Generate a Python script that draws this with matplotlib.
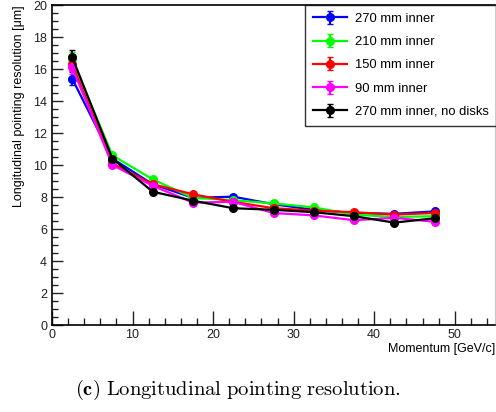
import matplotlib
matplotlib.use('Agg')
import matplotlib.pyplot as plt
from matplotlib.ticker import MultipleLocator

plt.rcParams['font.family'] = ['Liberation Sans', 'DejaVu Sans']

momentum = [2.5, 7.5, 12.5, 17.5, 22.5, 27.5, 32.5, 37.5, 42.5, 47.5]

res_270 = [15.4, 10.4, 8.8, 7.95, 8.02, 7.55, 7.2, 7.0, 6.95, 7.1]
res_210 = [16.6, 10.6, 9.1, 7.95, 7.8, 7.6, 7.35, 6.9, 6.75, 6.8]
res_150 = [16.3, 10.1, 8.8, 8.17, 7.7, 7.3, 7.15, 7.05, 6.9, 7.0]
res_90 = [16.1, 10.0, 8.7, 7.65, 7.7, 7.0, 6.85, 6.55, 6.7, 6.45]
res_nodisk = [16.75, 10.4, 8.33, 7.77, 7.3, 7.2, 7.05, 6.8, 6.4, 6.67]

err_270 = [0.4, 0.15, 0.1, 0.08, 0.08, 0.07, 0.07, 0.06, 0.06, 0.06]
err_210 = [0.45, 0.15, 0.1, 0.08, 0.08, 0.07, 0.07, 0.06, 0.06, 0.06]
err_150 = [0.4, 0.15, 0.1, 0.08, 0.08, 0.07, 0.07, 0.06, 0.06, 0.06]
err_90 = [0.4, 0.15, 0.1, 0.08, 0.08, 0.07, 0.07, 0.06, 0.06, 0.06]
err_nodisk = [0.45, 0.15, 0.1, 0.08, 0.08, 0.07, 0.07, 0.06, 0.06, 0.06]

labels = ['270 mm inner', '210 mm inner', '150 mm inner', '90 mm inner',
          '270 mm inner, no disks']
colors = ['#0000ff', '#00ff00', '#ff0000', '#ff00ff', '#000000']
series = [res_270, res_210, res_150, res_90, res_nodisk]
errors = [err_270, err_210, err_150, err_90, err_nodisk]

fig = plt.figure(figsize=(4.96, 4.12), dpi=100)
ax = fig.add_axes([52 / 496, 1 - 325 / 412, 443 / 496, 320 / 412])

for y, e, c, lab in zip(series, errors, colors, labels):
    ax.errorbar(momentum, y, yerr=e, color=c, marker='o', markersize=5.5,
                linewidth=1.6, elinewidth=1.5, capsize=2, label=lab)

ax.set_xlim(0, 55)
ax.set_ylim(0, 20)
ax.xaxis.set_major_locator(MultipleLocator(10))
ax.xaxis.set_minor_locator(MultipleLocator(2))
ax.yaxis.set_major_locator(MultipleLocator(2))
ax.yaxis.set_minor_locator(MultipleLocator(0.5))
ax.tick_params(which='both', direction='in', top=False, right=False,
               labelsize=9, width=1, colors='#222222')
ax.tick_params(which='major', length=8)
ax.tick_params(which='minor', length=4)
ax.xaxis.set_tick_params(which='major', length=10, pad=3)
ax.xaxis.set_tick_params(which='minor', length=5)
for s in ['left', 'bottom', 'top']:
    ax.spines[s].set_linewidth(1.2)
ax.spines['right'].set_color('#c8c8c8')

ax.set_xlabel('Momentum [GeV/c]', fontsize=9, loc='right', labelpad=1)
ax.set_ylabel('Longitudinal pointing resolution [\u03bcm]', fontsize=9,
              loc='top', labelpad=6)

leg = ax.legend(loc='upper right', bbox_to_anchor=(1.003, 1.0), fontsize=9.4,
                frameon=True, fancybox=False, edgecolor='black',
                borderpad=0.6, labelspacing=0.85, handlelength=2.6,
                handletextpad=0.6, borderaxespad=0)
leg.get_frame().set_linewidth(1)

fig.text(0.48, 0.053,
         r'$\mathbf{(c)}\ \mathrm{Longitudinal\ pointing\ resolution.}$',
         fontsize=14.8, ha='center', va='center', math_fontfamily='cm')

fig.savefig('out.png', dpi=100)
